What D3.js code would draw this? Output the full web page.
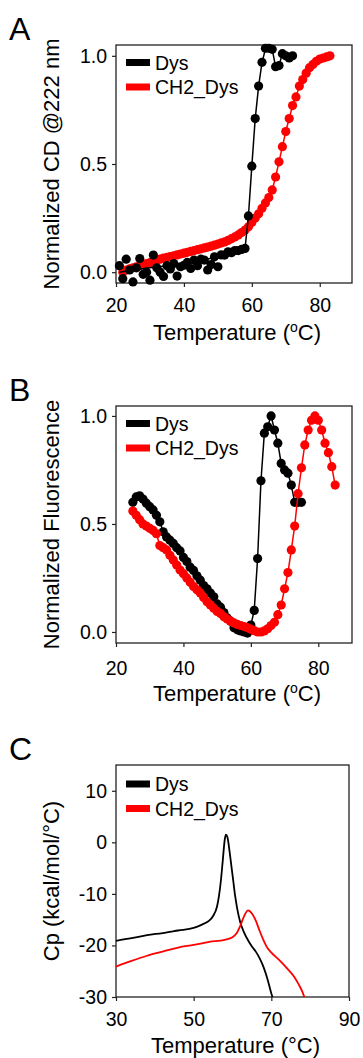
<!DOCTYPE html>
<html>
<head>
<meta charset="utf-8">
<script src="https://cdn.jsdelivr.net/npm/d3@7"></script>
<style>
  body { margin: 0; background: #fff; }
  svg { display: block; font-family: Arial, "Liberation Sans", sans-serif; }
</style>
</head>
<body>
<script>
// ---- panel A : CD @222 nm ----
var cdDysTemps = [21,22,23,24,25,26,27,28,29,30,31,32,33,34,35,36,37,38,39,40,41,42,43,44,45,46,47,48,49,50,51,52,53,54,55,56,57,58,59,60,61,62,63,64,65,66,67,68,69,70,71,72];
var cdDysValues = [0.03,-0.03,0.06,0.01,-0.045,0.02,0.063,-0.01,0.0,-0.037,0.079,0.02,0.0,-0.02,0.03,0.015,0.04,-0.018,0.025,0.032,0.045,0.017,0.056,0.03,0.06,0.056,0.01,0.035,0.071,0.025,0.08,0.079,0.094,0.09,0.1,0.1,0.105,0.11,0.26,0.49,0.71,0.86,0.97,1.035,1.035,1.03,0.95,0.955,1.01,1.0,0.99,1.0];
var cdDysFitTemps = [21,25,30,35,40,45,50,55,58,59,60,61,62,63,64,65,66,67,68,69,70,71,72];
var cdDysFitValues = [0.0,0.01,0.02,0.03,0.04,0.055,0.07,0.09,0.11,0.26,0.49,0.71,0.86,0.97,1.03,1.035,1.03,0.95,0.955,1.01,1.0,0.99,1.0];
var cdCh2Temps = [22,23,24,25,26,27,28,29,30,31,32,33,34,35,36,37,38,39,40,41,42,43,44,45,46,47,48,49,50,51,52,53,54,55,56,57,58,59,60,61,62,63,64,65,66,67,68,69,70,71,72,73,74,75,76,77,78,79,80,81,82,83];
var cdCh2Values = [0.0,0.01,0.015,0.02,0.025,0.03,0.035,0.04,0.044,0.05,0.055,0.06,0.065,0.068,0.072,0.076,0.08,0.084,0.088,0.092,0.096,0.1,0.104,0.108,0.112,0.116,0.12,0.125,0.13,0.135,0.14,0.147,0.155,0.163,0.172,0.183,0.195,0.21,0.23,0.25,0.27,0.295,0.32,0.345,0.38,0.44,0.51,0.58,0.65,0.71,0.77,0.81,0.86,0.89,0.92,0.945,0.96,0.975,0.985,0.99,0.995,1.0];

// ---- panel B : fluorescence ----
var flDysTemps = [25,26,27,28,29,30,31,32,33,34,35,36,37,38,39,40,41,42,43,44,45,46,47,48,49,50,51,52,53,54,55,56,57,58,59,60,61,62,63,64,65,66,67,68,69,70,71,72,73,74,75];
var flDysValues = [0.6,0.625,0.63,0.615,0.596,0.58,0.565,0.54,0.51,0.464,0.44,0.425,0.41,0.39,0.375,0.345,0.326,0.3,0.285,0.26,0.24,0.215,0.2,0.18,0.163,0.13,0.115,0.09,0.065,0.05,0.02,0.01,0.005,0.0,-0.005,0.032,0.1,0.34,0.7,0.92,0.95,1.0,0.935,0.874,0.78,0.75,0.735,0.68,0.6,0.6,0.6];
var flCh2Temps = [25,26,27,28,29,30,31,32,33,34,35,36,37,38,39,40,41,42,43,44,45,46,47,48,49,50,51,52,53,54,55,56,57,58,59,60,61,62,63,64,65,66,67,68,69,70,71,72,73,74,75,76,77,78,79,80,81,82,83,84,85];
var flCh2Values = [0.56,0.54,0.52,0.5,0.49,0.48,0.47,0.455,0.4,0.39,0.38,0.355,0.333,0.31,0.287,0.27,0.25,0.23,0.21,0.195,0.18,0.16,0.14,0.125,0.11,0.095,0.085,0.07,0.06,0.05,0.042,0.035,0.03,0.025,0.02,0.013,0.006,0.0,0.0,0.005,0.015,0.03,0.045,0.08,0.125,0.2,0.275,0.38,0.49,0.64,0.76,0.866,0.935,0.98,1.0,0.98,0.935,0.874,0.83,0.765,0.68];

// ---- panel C : DSC ----
var cpDysTemps = [30,34,38,42,46,50,52,54,55,56,56.5,57,57.5,58,58.3,58.7,59.2,59.7,60.2,60.7,61.2,62,63,64,65,66,67,68,69,70,70.3];
var cpDysValues = [-19.1,-18.6,-18.0,-17.6,-17.1,-16.6,-16.0,-15.2,-14.3,-12.5,-10.5,-7.5,-3.5,0.5,1.5,1.0,-1.5,-4.5,-7.5,-10.5,-12.8,-15.5,-17.5,-19.0,-20.2,-21.2,-22.5,-24.2,-26.5,-29.3,-30];
var cpCh2Temps = [30,34,38,42,46,50,54,58,60,61,62,63,64,65,66,67,68,69,70,72,74,76,77,78,78.5];
var cpCh2Values = [-24.1,-23.0,-22.0,-21.2,-20.4,-19.9,-19.3,-18.9,-18.4,-17.7,-16.2,-14.3,-13.2,-13.8,-15.2,-17.2,-19.0,-20.5,-21.4,-22.8,-24.4,-26.2,-27.5,-29.0,-30];

var seriesNames = ["Dys", "CH2_Dys"];
var seriesColors = ["#000000", "#ff0000"];
var cdTicksX = [20,40,60,80], cdTicksY = [0,0.5,1];
var flTicksX = [20,40,60,80], flTicksY = [0,0.5,1];
var cpTicksX = [30,50,70,90], cpTicksY = [-30,-20,-10,0,10];

var svg = d3.select("body").append("svg")
            .attr("width", 363)
            .attr("height", 1058);
svg.append("rect").attr("width", 363).attr("height", 1058).attr("fill", "#fff");

function zip(t, v) { return t.map(function(d, i) { return [d, v[i]]; }); }

function panel(o) {
  var x = d3.scaleLinear().domain(o.xDomain).range([o.left, o.right]);
  var y = d3.scaleLinear().domain(o.yDomain).range([o.bottom, o.top]);
  var g = svg.append("g");

  var xa = g.append("g")
            .attr("transform", "translate(0," + o.bottom + ")")
            .call(d3.axisBottom(x).tickValues(o.xTicks).tickSize(4).tickPadding(o.xPad).tickFormat(function(d){ return String(d); }));
  var ya = g.append("g")
            .attr("transform", "translate(" + o.left + ",0)")
            .call(d3.axisLeft(y).tickValues(o.yTicks).tickSize(4).tickPadding(5).tickFormat(o.yFormat));
  [xa, ya].forEach(function(a) {
    a.select(".domain").remove();
    a.selectAll("line").attr("stroke", "#222").attr("stroke-width", 1.2);
    a.selectAll("text").attr("font-size", 19.5).attr("fill", "#000")
     .attr("font-family", "Arial, 'Liberation Sans', sans-serif");
  });

  g.append("rect")
   .attr("x", o.left).attr("y", o.top)
   .attr("width", o.right - o.left).attr("height", o.bottom - o.top)
   .attr("fill", "none").attr("stroke", "#222").attr("stroke-width", 1.3);

  // panel letter
  g.append("text").attr("x", 9).attr("y", o.top - 5).attr("font-size", 32).text(o.letter);

  // y title
  g.append("text")
   .attr("transform", "translate(" + o.yTitleX + "," + ((o.top + o.bottom) / 2) + ") rotate(-90)")
   .attr("text-anchor", "middle").attr("font-size", 22).text(o.yTitle);

  // x title
  var xt = g.append("text")
            .attr("x", (o.left + o.right) / 2 + 3).attr("y", o.xTitleY)
            .attr("text-anchor", "middle").attr("font-size", 22);
  if (o.superDeg) {
    xt.append("tspan").text("Temperature (");
    xt.append("tspan").attr("font-size", 14).attr("dy", -8).text("o");
    xt.append("tspan").attr("dy", 8).text("C)");
  } else {
    xt.text("Temperature (\u00B0C)");
  }

  // legend
  var lg = g.append("g");
  seriesNames.forEach(function(n, i) {
    var cy = o.top + o.legendDy + i * 24.5;
    lg.append("rect").attr("x", o.left + 10).attr("y", cy - 3.5).attr("width", 24).attr("height", 7).attr("fill", seriesColors[i]);
    lg.append("text").attr("x", o.left + 39).attr("y", cy + 7).attr("font-size", 19.5).text(n);
  });

  return { x: x, y: y, g: g };
}

function points(p, data, color, fit) {
  var line = d3.line().x(function(d){ return p.x(d[0]); }).y(function(d){ return p.y(d[1]); });
  p.g.append("path").datum(fit || data).attr("d", line)
     .attr("fill", "none").attr("stroke", color).attr("stroke-width", 1.5);
  p.g.append("g").selectAll("circle").data(data).join("circle")
     .attr("cx", function(d){ return p.x(d[0]); })
     .attr("cy", function(d){ return p.y(d[1]); })
     .attr("r", 4.6).attr("fill", color);
}

// panel A
var pA = panel({ letter: "A", left: 116, right: 352, top: 45, bottom: 283,
  xDomain: [20, 89.5], yDomain: [-0.05, 1.05], xTicks: cdTicksX, yTicks: cdTicksY,
  yFormat: d3.format(".1f"), xPad: 11, yTitle: "Normalized CD @222 nm", yTitleX: 59,
  xTitleY: 340, superDeg: true, legendDy: 17.5 });
points(pA, zip(cdCh2Temps, cdCh2Values), seriesColors[1]);
points(pA, zip(cdDysTemps, cdDysValues), seriesColors[0], zip(cdDysFitTemps, cdDysFitValues));

// panel B
var pB = panel({ letter: "B", left: 116, right: 352, top: 406, bottom: 643,
  xDomain: [20, 90], yDomain: [-0.051, 1.046], xTicks: flTicksX, yTicks: flTicksY,
  yFormat: d3.format(".1f"), xPad: 14, yTitle: "Normalized Fluorescence", yTitleX: 59,
  xTitleY: 701, superDeg: true, legendDy: 17.5 });
points(pB, zip(flDysTemps, flDysValues), seriesColors[0]);
points(pB, zip(flCh2Temps, flCh2Values), seriesColors[1]);

// panel C
var pC = panel({ letter: "C", left: 116, right: 349, top: 765, bottom: 997,
  xDomain: [30, 90], yDomain: [-30, 15], xTicks: cpTicksX, yTicks: cpTicksY,
  yFormat: function(d){ return String(d); }, xPad: 11, yTitle: "Cp (kcal/mol/\u00B0C)", yTitleX: 59,
  xTitleY: 1053, superDeg: false, legendDy: 19 });
var cpLine = d3.line().curve(d3.curveMonotoneX)
               .x(function(d){ return pC.x(d[0]); }).y(function(d){ return pC.y(d[1]); });
[[cpDysTemps, cpDysValues], [cpCh2Temps, cpCh2Values]].forEach(function(s, i) {
  pC.g.append("path").datum(zip(s[0], s[1])).attr("d", cpLine)
      .attr("fill", "none").attr("stroke", seriesColors[i]).attr("stroke-width", 1.8);
});
</script>
</body>
</html>
